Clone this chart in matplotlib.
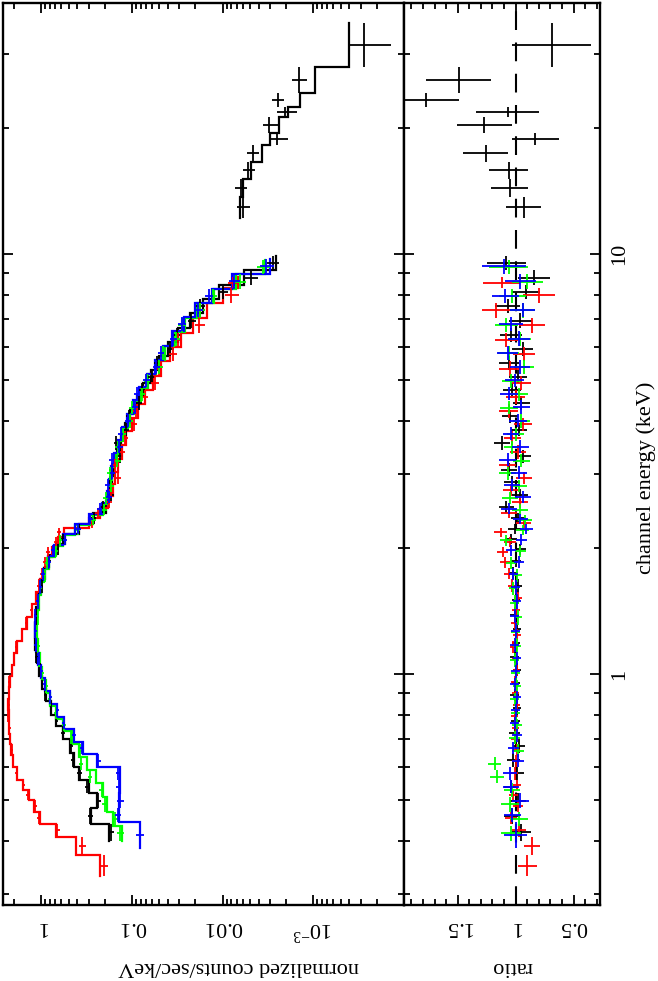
import numpy as np
import matplotlib
matplotlib.use("Agg")
import matplotlib.pyplot as plt
from matplotlib.ticker import LogLocator, NullFormatter, MultipleLocator, FixedLocator

plt.rcParams['font.family'] = ['Liberation Serif', 'DejaVu Serif']
plt.rcParams['mathtext.fontset'] = 'custom'
plt.rcParams['mathtext.rm'] = 'Liberation Serif'

# ---------------- data ----------------
# black (FI CCD) spectrum: bin edges (keV), folded model (counts/s/keV), data/model ratio, ratio error
black_edges = [0.40, 0.44, 0.48, 0.52, 0.56, 0.60, 0.65, 0.70, 0.75, 0.80, 0.86, 0.92, 0.99, 1.06, 1.14,
               1.23, 1.33, 1.44, 1.56, 1.68, 1.80, 1.92, 2.04, 2.16, 2.28, 2.42, 2.58, 2.76, 2.96, 3.18,
               3.42, 3.68, 3.96, 4.26, 4.58, 4.92, 5.30, 5.72, 6.18, 6.68, 7.22, 7.80, 8.44, 9.14, 9.90]
black_model = [0.18, 0.28, 0.24, 0.30, 0.38, 0.44, 0.48, 0.57, 0.68, 0.79, 0.89, 0.98, 1.05, 1.12, 1.16,
               1.17, 1.14, 1.09, 1.01, 0.92, 0.82, 0.69, 0.55, 0.38, 0.27, 0.195, 0.178, 0.168, 0.158, 0.146,
               0.133, 0.119, 0.104, 0.088, 0.075, 0.062, 0.050, 0.040, 0.031, 0.023, 0.0165, 0.0110, 0.0058, 0.0026]
black_ratio = [0.95, 1.03, 0.98, 1.04, 0.99, 1.02, 0.97, 1.01, 1.00, 0.99, 1.01, 1.00, 0.99, 1.01, 1.00,
               0.99, 1.01, 1.00, 0.98, 1.02, 1.00, 0.96, 1.04, 1.01, 0.98, 1.08, 0.96, 1.03, 1.06, 0.94,
               1.12, 0.97, 1.05, 0.95, 1.03, 0.98, 1.06, 0.94, 1.04, 0.96, 1.07, 0.91, 0.84, 1.08]
black_rerr = [0.08, 0.07, 0.07, 0.06, 0.06, 0.055, 0.05, 0.045, 0.04, 0.035, 0.035, 0.035, 0.035, 0.035, 0.035,
              0.035, 0.035, 0.036, 0.038, 0.04, 0.043, 0.046, 0.05, 0.055, 0.06, 0.065, 0.07, 0.07, 0.07, 0.07,
              0.07, 0.07, 0.072, 0.075, 0.078, 0.08, 0.085, 0.09, 0.095, 0.10, 0.11, 0.12, 0.14, 0.17]

# black hard X-ray detector bins
pin_edges = [12.2, 13.7, 15.1, 16.6, 18.2, 19.4, 21.2, 22.4, 24.2, 27.9, 35.5]
pin_model = [0.0064, 0.0060, 0.0049, 0.0037, 0.0030, 0.0024, 0.0019, 0.0014, 0.00096, 0.00040]
pin_ratio = [0.93, 1.05, 1.06, 1.26, 0.83, 1.27, 1.07, 1.77, 1.49, 0.69]
pin_rerr = [0.15, 0.16, 0.17, 0.19, 0.20, 0.24, 0.27, 0.28, 0.28, 0.34]

# red (BI CCD)
red_edges = [0.33, 0.37, 0.41, 0.44, 0.47, 0.50, 0.53, 0.56, 0.60, 0.64, 0.68, 0.72, 0.77, 0.82, 0.87,
             0.93, 0.99, 1.05, 1.12, 1.20, 1.28, 1.37, 1.47, 1.57, 1.68, 1.79, 1.90, 2.01, 2.12, 2.23,
             2.35, 2.49, 2.65, 2.83, 3.03, 3.25, 3.50, 3.78, 4.08, 4.40, 4.75, 5.13, 5.55, 6.00, 6.50,
             7.05, 7.65, 8.30, 8.80]
red_model = [0.225, 0.41, 0.69, 1.03, 1.20, 1.38, 1.60, 1.85, 2.05, 2.15, 2.20, 2.25, 2.28, 2.30, 2.28,
             2.22, 2.12, 2.00, 1.85, 1.65, 1.45, 1.28, 1.14, 1.03, 0.93, 0.84, 0.76, 0.66, 0.56, 0.30,
             0.225, 0.185, 0.162, 0.152, 0.142, 0.130, 0.116, 0.101, 0.086, 0.072, 0.059, 0.048, 0.038,
             0.029, 0.021, 0.0150, 0.0100, 0.0068]
red_ratio = [0.90, 0.86, 0.97, 1.04, 0.98, 1.02, 0.99, 1.01, 1.00, 0.99, 1.01, 1.00, 1.01, 0.99, 1.00,
             1.01, 0.99, 1.00, 1.02, 0.99, 1.01, 1.00, 0.98, 1.03, 1.06, 1.09, 1.11, 1.05, 1.13, 0.93,
             1.06, 0.96, 1.04, 0.93, 1.07, 0.98, 1.03, 0.94, 1.06, 1.00, 0.95, 1.05, 0.93, 1.08, 0.86,
             1.17, 0.80, 1.12]
red_rerr = [0.08, 0.07, 0.06, 0.05, 0.045, 0.04, 0.035, 0.033, 0.031, 0.03, 0.03, 0.03, 0.03, 0.03, 0.03,
            0.03, 0.03, 0.031, 0.032, 0.033, 0.034, 0.035, 0.037, 0.039, 0.041, 0.044, 0.047, 0.05, 0.055, 0.065,
            0.07, 0.07, 0.07, 0.07, 0.07, 0.072, 0.074, 0.077, 0.08, 0.083, 0.086, 0.09, 0.095, 0.10, 0.11,
            0.12, 0.14, 0.16]

# green (FI CCD)
green_edges = [0.40, 0.435, 0.47, 0.51, 0.55, 0.59, 0.635, 0.68, 0.73, 0.78, 0.84, 0.90, 0.97, 1.04, 1.12,
               1.21, 1.31, 1.42, 1.54, 1.66, 1.78, 1.90, 2.02, 2.14, 2.26, 2.39, 2.54, 2.71, 2.90, 3.11,
               3.34, 3.59, 3.86, 4.15, 4.47, 4.81, 5.18, 5.59, 6.04, 6.53, 7.06, 7.63, 8.26, 8.95, 9.70]
green_model = [0.13, 0.16, 0.19, 0.21, 0.25, 0.31, 0.38, 0.46, 0.57, 0.69, 0.80, 0.89, 0.97, 1.04, 1.09,
               1.12, 1.11, 1.07, 1.01, 0.93, 0.83, 0.71, 0.57, 0.42, 0.29, 0.21, 0.185, 0.175, 0.165, 0.152,
               0.138, 0.124, 0.110, 0.094, 0.080, 0.066, 0.054, 0.043, 0.034, 0.026, 0.019, 0.0125, 0.0072, 0.0034]
green_ratio = [1.04, 0.97, 1.05, 1.03, 1.16, 1.18, 0.98, 1.01, 0.99, 1.00, 1.01, 0.99, 1.00, 1.01, 0.99,
               1.00, 0.98, 1.01, 1.02, 0.99, 1.04, 0.96, 1.08, 0.94, 0.92, 0.96, 1.05, 0.97, 1.07, 0.95,
               1.03, 1.00, 0.95, 1.06, 0.97, 1.04, 0.93, 1.06, 0.96, 1.08, 0.94, 1.03, 0.90, 1.06]
green_rerr = [0.09, 0.08, 0.075, 0.07, 0.06, 0.055, 0.05, 0.045, 0.042, 0.04, 0.037, 0.037, 0.037, 0.037, 0.037,
              0.037, 0.037, 0.037, 0.039, 0.041, 0.044, 0.046, 0.051, 0.057, 0.062, 0.068, 0.068, 0.068, 0.07, 0.07,
              0.071, 0.071, 0.074, 0.076, 0.079, 0.082, 0.086, 0.09, 0.095, 0.10, 0.107, 0.115, 0.135, 0.17]

# blue (FI CCD)
blue_edges = [0.385, 0.443, 0.48, 0.52, 0.56, 0.60, 0.645, 0.69, 0.74, 0.79, 0.85, 0.91, 0.98, 1.05, 1.13,
              1.22, 1.32, 1.43, 1.55, 1.67, 1.79, 1.91, 2.03, 2.15, 2.27, 2.40, 2.55, 2.72, 2.91, 3.12,
              3.35, 3.60, 3.87, 4.16, 4.48, 4.82, 5.19, 5.60, 6.05, 6.54, 7.07, 7.64, 8.27, 8.96, 9.75]
blue_model = [0.082, 0.14, 0.14, 0.135, 0.135, 0.24, 0.35, 0.44, 0.56, 0.67, 0.80, 0.91, 1.00, 1.08, 1.14,
              1.17, 1.15, 1.10, 1.03, 0.94, 0.84, 0.72, 0.58, 0.43, 0.30, 0.215, 0.19, 0.18, 0.17, 0.157,
              0.143, 0.128, 0.113, 0.097, 0.083, 0.069, 0.056, 0.045, 0.036, 0.027, 0.020, 0.013, 0.0078, 0.0030]
blue_ratio = [1.00, 1.03, 0.96, 1.04, 1.05, 0.98, 1.02, 0.99, 1.01, 1.00, 0.99, 1.01, 1.00, 0.99, 1.01,
              1.00, 1.01, 0.99, 1.00, 1.02, 0.97, 1.04, 0.95, 0.91, 0.96, 1.06, 0.94, 1.03, 0.97, 1.07,
              0.96, 1.04, 0.98, 0.95, 1.06, 1.01, 0.96, 1.07, 0.97, 1.04, 0.94, 1.09, 0.96, 1.10]
blue_rerr = [0.10, 0.075, 0.075, 0.07, 0.06, 0.055, 0.05, 0.045, 0.042, 0.04, 0.037, 0.037, 0.037, 0.037, 0.037,
             0.037, 0.037, 0.037, 0.039, 0.041, 0.044, 0.046, 0.051, 0.057, 0.062, 0.068, 0.068, 0.068, 0.07, 0.07,
             0.071, 0.071, 0.074, 0.076, 0.079, 0.082, 0.086, 0.09, 0.095, 0.10, 0.107, 0.115, 0.135, 0.19]

count_ticks = [1, 0.1, 0.01, 0.001]
count_labels = ['1', '0.1', '0.01', r'$\mathregular{10^{-3}}$']
ratio_ticks = [1.5, 1, 0.5]
ratio_labels = ['1.5', '1', '0.5']
energy_ticks = [1, 10]
energy_labels = ['1', '10']

# ---------------- figure ----------------
W, H = 658, 981
fig = plt.figure(figsize=(W / 100, H / 100), dpi=100)


def fx(px):
    return px / W


def fy(py):
    return 1 - py / H


FS = 16
ax1 = fig.add_axes([fx(3), fy(905), fx(404) - fx(3), fy(3) - fy(905)])
ax2 = fig.add_axes([fx(404), fy(905), fx(600) - fx(404), fy(3) - fy(905)])

ELIM = (0.2818, 39.6)

sets = [
    (black_edges, black_model, black_ratio, black_rerr, 'black'),
    (pin_edges, pin_model, pin_ratio, pin_rerr, 'black'),
    (red_edges, red_model, red_ratio, red_rerr, '#ff0000'),
    (green_edges, green_model, green_ratio, green_rerr, '#00ff00'),
    (blue_edges, blue_model, blue_ratio, blue_rerr, '#0000ff'),
]

ax2.axvline(1.0, color='black', lw=1.5, ls=(0, (9, 6)), zorder=1)

for edges, model, ratio, rerr, col in sets:
    e = np.array(edges)
    lo, hi = e[:-1], e[1:]
    cen = np.sqrt(lo * hi)
    m = np.array(model)
    r = np.array(ratio)
    re = np.array(rerr)
    data = m * r
    derr = m * re
    xs = np.repeat(m, 2)
    ys = np.column_stack([lo, hi]).ravel()
    ax1.plot(xs, ys, color=col, lw=1.6, solid_joinstyle='miter', zorder=2)
    ax1.errorbar(data, cen, xerr=derr, yerr=[cen - lo, hi - cen], fmt='none',
                 ecolor=col, elinewidth=1.3, capsize=0, zorder=3)
    ax2.errorbar(r, cen, xerr=re, yerr=[cen - lo, hi - cen], fmt='none',
                 ecolor=col, elinewidth=1.3, capsize=0, zorder=3)

for ax in (ax1, ax2):
    ax.set_yscale('log')
    ax.set_ylim(*ELIM)
    ax.yaxis.set_major_locator(FixedLocator(energy_ticks))
    ax.yaxis.set_minor_locator(LogLocator(base=10, subs=np.arange(2, 10)))
    ax.yaxis.set_minor_formatter(NullFormatter())
    for s in ax.spines.values():
        s.set_linewidth(1.7)
    ax.tick_params(which='both', direction='in', top=True, bottom=True, left=True, right=True,
                   width=1.3, labelsize=FS, colors='black')
    ax.tick_params(which='major', length=7.5)
    ax.tick_params(which='minor', length=4.2)

ax1.set_xscale('log')
ax1.set_xlim(2.644, 1.0e-4)
ax1.xaxis.set_major_locator(FixedLocator(count_ticks))
ax1.set_xticklabels(count_labels)
ax1.xaxis.set_minor_locator(LogLocator(base=10, subs=np.arange(2, 10)))
ax1.xaxis.set_minor_formatter(NullFormatter())
ax1.tick_params(axis='y', labelleft=False, labelright=False)
ax1.tick_params(axis='x', labelrotation=180, pad=9)

ax2.set_xlim(1.963, 0.273)
ax2.xaxis.set_major_locator(FixedLocator(ratio_ticks))
ax2.set_xticklabels(ratio_labels)
ax2.xaxis.set_minor_locator(MultipleLocator(0.1))
ax2.tick_params(axis='x', labelrotation=180, pad=9)
ax2.tick_params(axis='y', labelleft=False, labelright=True, labelrotation=90, pad=7)
ax2.set_yticklabels(energy_labels)
for t in ax2.get_yticklabels():
    t.set_verticalalignment('center')

fig.text(fx(239), fy(967), 'normalized counts/sec/keV', rotation=180, ha='center', va='center', fontsize=FS)
fig.text(fx(512), fy(967), 'ratio', rotation=180, ha='center', va='center', fontsize=FS)
fig.text(fx(646), fy(478), 'channel energy (keV)', rotation=90, ha='center', va='center', fontsize=FS)

fig.savefig('out.png', dpi=100)
